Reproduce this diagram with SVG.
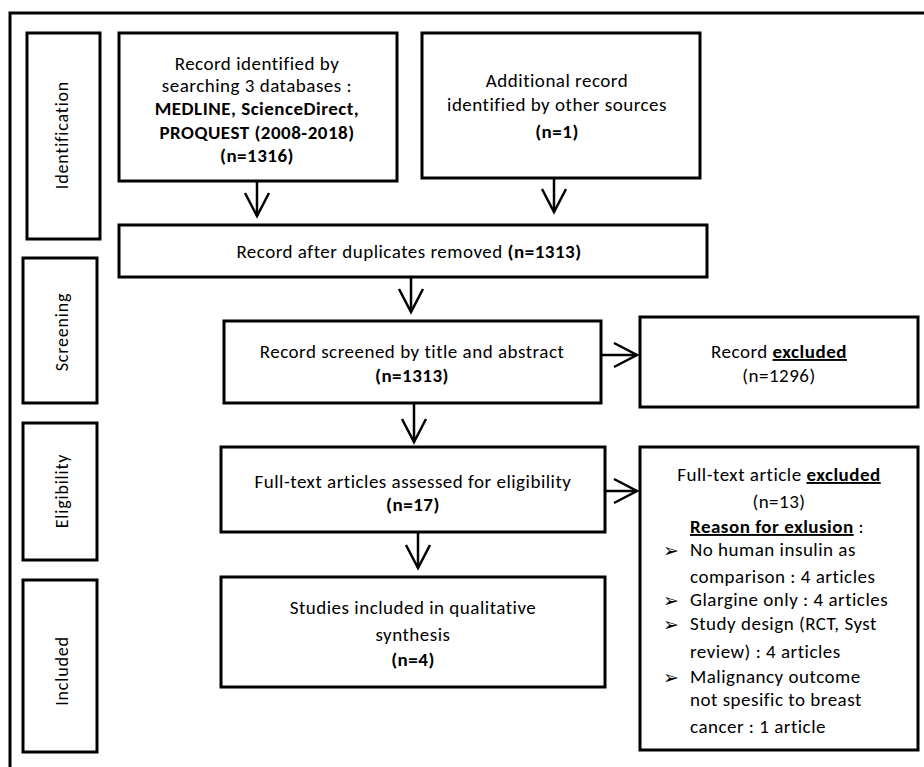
<svg xmlns="http://www.w3.org/2000/svg" width="924" height="767" viewBox="0 0 924 767">
<style>
.box{fill:#fff;stroke:#000;stroke-width:3}
.frame{fill:none;stroke:#000;stroke-width:3}
.t{font-family:Carlito,Lato,"Liberation Sans",sans-serif;font-size:19px;letter-spacing:0.5px;fill:#000;text-anchor:middle}
.l{text-anchor:start}
.v{font-size:18px;letter-spacing:0.8px}
.b{font-weight:bold}
.u{text-decoration:underline}
.bl{font-family:"DejaVu Sans",sans-serif;font-size:19px;letter-spacing:0}
.c{fill:none;stroke:#000;stroke-width:2.5}
</style>
<defs>
<marker id="ah" markerUnits="userSpaceOnUse" markerWidth="30" markerHeight="30" refX="24" refY="13" orient="auto" overflow="visible">
<path d="M1,1 L24,13 L1,25" fill="none" stroke="#000" stroke-width="2.5"/>
</marker>
</defs>
<rect class="frame" x="10" y="13" width="930" height="770"/>

<g id="stage-identification">
<rect class="box" x="27" y="33" width="73" height="206"/>
<text class="t v" transform="translate(68,135) rotate(-90)">Identification</text>
</g>
<g id="stage-screening">
<rect class="box" x="23" y="258" width="74" height="145"/>
<text class="t v" transform="translate(68,332) rotate(-90)">Screening</text>
</g>
<g id="stage-eligibility">
<rect class="box" x="23" y="423" width="74" height="137"/>
<text class="t v" transform="translate(68,491) rotate(-90)">Eligibility</text>
</g>
<g id="stage-included">
<rect class="box" x="23" y="580" width="74" height="172"/>
<text class="t v" transform="translate(68,671) rotate(-90)">Included</text>
</g>

<g id="n-databases">
<rect class="box" x="119" y="33" width="278" height="148"/>
<text class="t" x="257" y="70">Record identified by</text>
<text class="t" x="257" y="92">searching 3 databases :</text>
<text class="t b" x="257" y="115">MEDLINE, ScienceDirect,</text>
<text class="t b" x="257" y="139">PROQUEST (2008-2018)</text>
<text class="t b" x="257" y="162">(n=1316)</text>
</g>
<g id="n-other">
<rect class="box" x="422" y="33" width="278" height="145"/>
<text class="t" x="557" y="87">Additional record</text>
<text class="t" x="557" y="111">identified by other sources</text>
<text class="t b" x="557" y="138">(n=1)</text>
</g>
<g id="n-duplicates">
<rect class="box" x="119" y="225" width="588" height="52"/>
<text class="t" x="409" y="258">Record after duplicates removed <tspan class="b">(n=1313)</tspan></text>
</g>
<g id="n-screened">
<rect class="box" x="224" y="321" width="377" height="82"/>
<text class="t" x="412" y="358">Record screened by title and abstract</text>
<text class="t b" x="412" y="382">(n=1313)</text>
</g>
<g id="n-excluded1">
<rect class="box" x="640" y="317" width="278" height="90"/>
<text class="t" x="779" y="358">Record <tspan class="b u">excluded</tspan></text>
<text class="t" x="779" y="382">(n=1296)</text>
</g>
<g id="n-fulltext">
<rect class="box" x="221" y="447" width="384" height="85"/>
<text class="t" x="413" y="488">Full-text articles assessed for eligibility</text>
<text class="t b" x="413" y="511">(n=17)</text>
</g>
<g id="n-excluded2">
<rect class="box" x="640" y="447" width="278" height="303"/>
<text class="t" x="779" y="481">Full-text article <tspan class="b u">excluded</tspan></text>
<text class="t" x="779" y="508">(n=13)</text>
<text class="t l" x="690" y="533"><tspan class="b u">Reason for exlusion</tspan> :</text>
<text class="t l bl" x="663" y="557">➢</text>
<text class="t l" x="690" y="556">No human insulin as</text>
<text class="t l" x="690" y="583">comparison : 4 articles</text>
<text class="t l bl" x="663" y="607">➢</text>
<text class="t l" x="690" y="606">Glargine only : 4 articles</text>
<text class="t l bl" x="663" y="631">➢</text>
<text class="t l" x="690" y="630">Study design (RCT, Syst</text>
<text class="t l" x="690" y="658">review) : 4 articles</text>
<text class="t l bl" x="663" y="684">➢</text>
<text class="t l" x="690" y="683">Malignancy outcome</text>
<text class="t l" x="690" y="706">not spesific to breast</text>
<text class="t l" x="690" y="733">cancer : 1 article</text>
</g>
<g id="n-included">
<rect class="box" x="221" y="577" width="384" height="110"/>
<text class="t" x="413" y="614">Studies included in qualitative</text>
<text class="t" x="413" y="641">synthesis</text>
<text class="t b" x="413" y="666">(n=4)</text>
</g>

<g id="connectors">
<line class="c" x1="257" y1="182" x2="257" y2="216" marker-end="url(#ah)"/>
<line class="c" x1="554" y1="179" x2="554" y2="212" marker-end="url(#ah)"/>
<line class="c" x1="411" y1="278" x2="411" y2="312" marker-end="url(#ah)"/>
<line class="c" x1="602" y1="355" x2="637" y2="355" marker-end="url(#ah)"/>
<line class="c" x1="414" y1="404" x2="414" y2="442" marker-end="url(#ah)"/>
<line class="c" x1="606" y1="491" x2="637" y2="491" marker-end="url(#ah)"/>
<line class="c" x1="418" y1="533" x2="418" y2="568" marker-end="url(#ah)"/>
</g>
</svg>
